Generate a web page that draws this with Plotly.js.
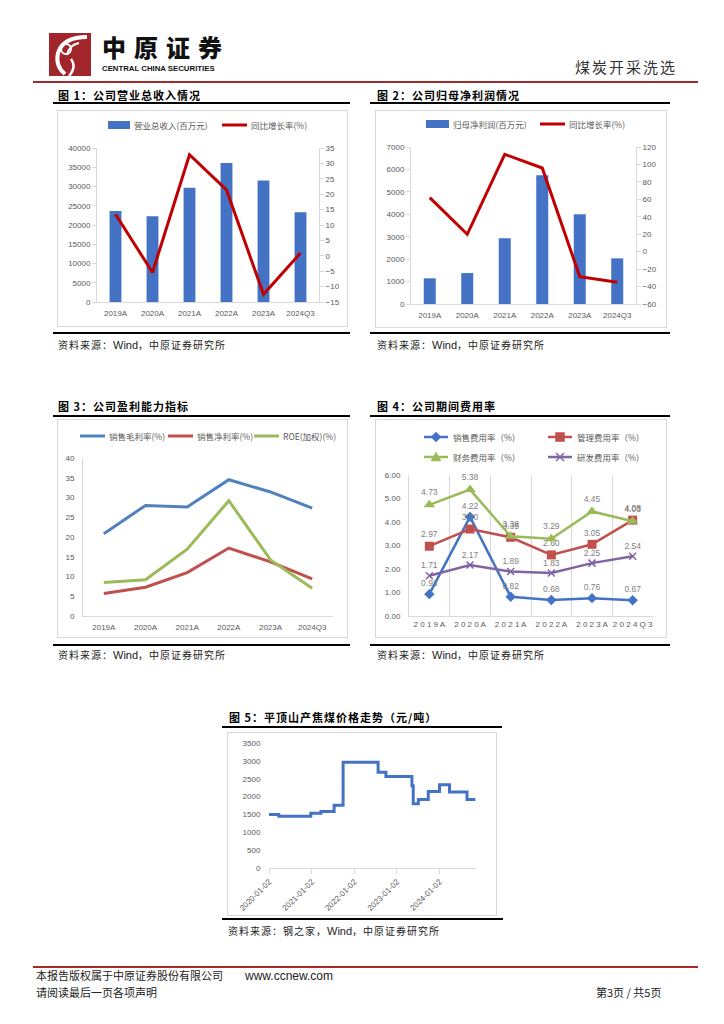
<!DOCTYPE html>
<html><head><meta charset="utf-8">
<script src="https://cdn.plot.ly/plotly-3.0.1.min.js"></script>
<style>
body{margin:0;width:724px;height:1024px;position:relative;background:#fff;font-family:"Noto Sans CJK SC",sans-serif;overflow:hidden}
.ln{position:absolute;height:2px;background:#000}
.ttl{position:absolute;font-size:11px;font-weight:bold;letter-spacing:1px;color:#000;line-height:14px;white-space:nowrap}
.src{position:absolute;font-size:10px;color:#222;letter-spacing:1px;white-space:nowrap;line-height:12px}
.src b{font-family:"Liberation Sans",Arial,sans-serif;font-weight:normal;font-size:11px;letter-spacing:0}
.chart{position:absolute;outline:1px solid #d9d9d9;outline-offset:-1px}
.ft{position:absolute;font-size:11px;color:#222;white-space:nowrap;line-height:13px}
</style></head>
<body>
<svg style="position:absolute;left:49px;top:33px" width="42" height="43" viewBox="0 0 42 43">
<rect x="0" y="0" width="42" height="43" fill="#A1262C"/>
<path d="M38 4 Q14 4 9 20 Q6 33 16 41" stroke="#fff" stroke-width="4" fill="none"/>
<path d="M30 10 Q20 12 18 22" stroke="#fff" stroke-width="2" fill="none"/>
<circle cx="17" cy="16" r="5" stroke="#fff" stroke-width="2" fill="none"/>
<path d="M20 43 Q28 34 22 26" stroke="#fff" stroke-width="2.5" fill="none"/>
</svg>
<div style="position:absolute;left:102px;top:33px;font-size:24px;font-weight:900;letter-spacing:8px;color:#111;line-height:28px">中原证券</div>
<div style="position:absolute;left:102px;top:64px;font-family:'Liberation Sans',Arial;font-size:7.8px;font-weight:bold;color:#111;line-height:9px;white-space:nowrap">CENTRAL CHINA SECURITIES</div>
<div style="position:absolute;left:575px;top:57px;font-size:15px;letter-spacing:2px;color:#333;line-height:20px">煤炭开采洗选</div>
<div class="ln" style="top:81px;left:33px;width:665px;background:#A52A2A"></div>

<div class="ttl" style="left:58px;top:88px">图 1：公司营业总收入情况</div>
<div class="ttl" style="left:377px;top:88px">图 2：公司归母净利润情况</div>
<div class="ln" style="top:102px;left:53px;width:297px"></div>
<div class="ln" style="top:102px;left:370px;width:300px"></div>
<div id="c1" class="chart" style="left:57px;top:110px;width:291px;height:217px"></div>
<div id="c2" class="chart" style="left:375px;top:110px;width:292px;height:218px"></div>
<div class="ln" style="top:332px;left:53px;width:297px"></div>
<div class="ln" style="top:332px;left:370px;width:300px"></div>
<div class="src" style="left:58px;top:339px">资料来源：<b>Wind</b>，中原证券研究所</div>
<div class="src" style="left:377px;top:339px">资料来源：<b>Wind</b>，中原证券研究所</div>

<div class="ttl" style="left:58px;top:399px">图 3：公司盈利能力指标</div>
<div class="ttl" style="left:377px;top:399px">图 4：公司期间费用率</div>
<div class="ln" style="top:415px;left:53px;width:297px"></div>
<div class="ln" style="top:415px;left:370px;width:300px"></div>
<div id="c3" class="chart" style="left:57px;top:419px;width:291px;height:219px"></div>
<div id="c4" class="chart" style="left:375px;top:419px;width:292px;height:219px"></div>
<div class="ln" style="top:644px;left:53px;width:297px"></div>
<div class="ln" style="top:644px;left:370px;width:300px"></div>
<div class="src" style="left:58px;top:649px">资料来源：<b>Wind</b>，中原证券研究所</div>
<div class="src" style="left:377px;top:649px">资料来源：<b>Wind</b>，中原证券研究所</div>

<div class="ttl" style="left:229px;top:710px">图 5：平顶山产焦煤价格走势（元/吨）</div>
<div class="ln" style="top:726px;left:222px;width:280px"></div>
<div id="c5" class="chart" style="left:227px;top:732px;width:270px;height:184px"></div>
<div class="ln" style="top:918px;left:222px;width:281px"></div>
<div class="src" style="left:228px;top:925px">资料来源：钢之家，<b>Wind</b>，中原证券研究所</div>

<div class="ln" style="top:966px;left:33px;width:665px;background:#A52A2A"></div>
<div class="ft" style="left:36px;top:969px">本报告版权属于中原证券股份有限公司<span style="font-family:'Liberation Sans',Arial;font-size:12px;margin-left:22px">www.ccnew.com</span></div>
<div class="ft" style="left:36px;top:986px">请阅读最后一页各项声明</div>
<div class="ft" style="left:596px;top:986px">第3页 / 共5页</div>

<script>
// ---------- data ----------
const categories = ['2019A','2020A','2021A','2022A','2023A','2024Q3'];
const revenue = [23650, 22300, 29650, 36100, 31550, 23300];
const revenueYoY = [13.5, -5.4, 32.8, 21.4, -12.5, 0.9];
const netProfit = [1145, 1380, 2930, 5740, 4000, 2035];
const netProfitYoY = [61.9, 19.9, 111.6, 95.9, -28.6, -35.1];
const grossMargin = [20.8, 28.0, 27.6, 34.5, 31.4, 27.3];
const netMargin = [5.7, 7.3, 11.0, 17.2, 13.7, 9.4];
const roeWeighted = [8.5, 9.2, 16.9, 29.2, 14.2, 7.0];
const sellingRate = [0.93, 4.22, 0.82, 0.68, 0.76, 0.67];
const adminRate = [2.97, 3.70, 3.35, 2.60, 3.05, 4.08];
const financeRate = [4.73, 5.38, 3.39, 3.29, 4.45, 4.03];
const rdRate = [1.71, 2.17, 1.89, 1.83, 2.25, 2.54];
const priceDates = ['2020-01-02','2020-03-26','2020-12-25','2021-03-22','2021-07-13','2021-09-28','2022-07-25','2022-09-30','2023-05-11','2023-05-22','2023-07-05','2023-09-28','2024-01-02','2024-03-28','2024-08-25','2024-11-05'];
const priceValues = [1500, 1450, 1530, 1580, 1760, 2960, 2680, 2560, 2300, 1800, 1920, 2140, 2330, 2130, 1920, 1920];
const priceTickLabels = ['2020-01-02','2021-01-02','2022-01-02','2023-01-02','2024-01-02'];

// ---------- helpers ----------
const TXT = '#595959', AX = '#d9d9d9';
const cfg = {staticPlot:true, displayModeBar:false};
const NUMF = 'Liberation Sans, Arial, sans-serif';
const CJK = 'Noto Sans CJK SC, sans-serif';
function conv(W,H,m){return {X:x=>(x-m.l)/(W-m.l-m.r), Y:y=>1-(y-m.t)/(H-m.t-m.b)};}
function legText(c,x,y,t,size){return {xref:'paper',yref:'paper',x:c.X(x),y:c.Y(y),xanchor:'left',yanchor:'middle',text:t,showarrow:false,font:{family:CJK,size:size||8.5,color:TXT}};}
function legRect(c,x0,y0,x1,y1,col){return {type:'rect',xref:'paper',yref:'paper',x0:c.X(x0),x1:c.X(x1),y0:c.Y(y0),y1:c.Y(y1),fillcolor:col,line:{width:0}};}
function legLine(c,x0,x1,y,col,w){return {type:'line',xref:'paper',yref:'paper',x0:c.X(x0),x1:c.X(x1),y0:c.Y(y),y1:c.Y(y),line:{color:col,width:w}};}
function yAx(extra){return Object.assign({showgrid:false,zeroline:false,showline:true,linecolor:AX,linewidth:1,ticks:'outside',ticklen:4,tickcolor:AX,tickformat:'d',tickfont:{family:NUMF,size:8,color:TXT}},extra);}
function xCat(extra){return Object.assign({type:'category',range:[-0.5,categories.length-0.5],showgrid:false,showline:true,linecolor:AX,ticks:'outside',ticklen:3,tickcolor:'rgba(0,0,0,0)',tickangle:0,tickfont:{family:NUMF,size:8,color:TXT}},extra);}
function base(W,H,m){return {width:W,height:H,margin:m,paper_bgcolor:'rgba(0,0,0,0)',plot_bgcolor:'rgba(0,0,0,0)',showlegend:false,font:{family:NUMF,size:8,color:TXT}};}

// ---------- chart 1 ----------
(function(){
  const W=291,H=217,m={l:40,r:29,t:38,b:25,pad:0}; const c=conv(W,H,m);
  const L=base(W,H,m);
  L.bargap=0.68;
  L.xaxis=xCat({});
  L.yaxis=yAx({range:[0,40000],dtick:5000});
  L.yaxis2=yAx({overlaying:'y',side:'right',range:[-15,35],dtick:5});
  L.shapes=[legRect(c,51,11,73,19,'#4472C4'),legLine(c,165,190,15,'#C00000',3)];
  L.annotations=[legText(c,75,15,'营业总收入(百万元)'),legText(c,192,15,'同比增长率(%)')];
  Plotly.newPlot('c1',[
    {type:'bar',x:categories,y:revenue,marker:{color:'#4472C4'},yaxis:'y'},
    {type:'scatter',mode:'lines',x:categories,y:revenueYoY,line:{color:'#C00000',width:3},yaxis:'y2'}
  ],L,cfg);
})();

// ---------- chart 2 ----------
(function(){
  const W=292,H=218,m={l:36,r:31,t:37,b:24,pad:0}; const c=conv(W,H,m);
  const L=base(W,H,m);
  L.bargap=0.68;
  L.xaxis=xCat({});
  L.yaxis=yAx({range:[0,7000],dtick:1000});
  L.yaxis2=yAx({overlaying:'y',side:'right',range:[-60,120],dtick:20});
  L.shapes=[legRect(c,51,10,74,18,'#4472C4'),legLine(c,165,190,14,'#C00000',3)];
  L.annotations=[legText(c,76,14,'归母净利润(百万元)'),legText(c,192,14,'同比增长率(%)')];
  Plotly.newPlot('c2',[
    {type:'bar',x:categories,y:netProfit,marker:{color:'#4472C4'},yaxis:'y'},
    {type:'scatter',mode:'lines',x:categories,y:netProfitYoY,line:{color:'#C00000',width:3},yaxis:'y2'}
  ],L,cfg);
})();

// ---------- chart 3 ----------
(function(){
  const W=291,H=219,m={l:26,r:15,t:39,b:22,pad:0}; const c=conv(W,H,m);
  const L=base(W,H,m);
  L.xaxis=xCat({});
  L.yaxis=yAx({range:[0,40],dtick:5,tickcolor:'rgba(0,0,0,0)',ticklen:6});
  const cols=['#4F81BD','#C0504D','#9BBB59'];
  L.shapes=[legLine(c,23,48,17,cols[0],3),legLine(c,111,136,17,cols[1],3),legLine(c,197,222,17,cols[2],3)];
  L.annotations=[legText(c,50,17,'销售毛利率(%)'),legText(c,138,17,'销售净利率(%)'),legText(c,224,17,'ROE(加权)(%)')];
  Plotly.newPlot('c3',[
    {type:'scatter',mode:'lines',x:categories,y:grossMargin,line:{color:cols[0],width:3}},
    {type:'scatter',mode:'lines',x:categories,y:netMargin,line:{color:cols[1],width:3}},
    {type:'scatter',mode:'lines',x:categories,y:roeWeighted,line:{color:cols[2],width:3}}
  ],L,cfg);
})();

// ---------- chart 4 ----------
(function(){
  const W=292,H=219,m={l:34,r:14,t:56,b:22,pad:0}; const c=conv(W,H,m);
  const L=base(W,H,m);
  const spaced=categories.map(s=>s.split('').join(' '));
  L.xaxis=xCat({showgrid:true,gridcolor:AX,gridwidth:1,tickson:'boundaries',ticks:'',ticklen:0});
  L.yaxis=yAx({range:[0,6],dtick:1,tickformat:'.2f',tickcolor:'rgba(0,0,0,0)',ticklen:6,showline:true});
  const cols=['#4472C4','#C0504D','#9BBB59','#8064A2'];
  const names=['销售费用率（%）','管理费用率（%）','财务费用率（%）','研发费用率（%）'];
  const syms=['diamond','square','triangle-up','x-thin-open'];
  const sizes=[8,9,10,7];
  const series=[sellingRate,adminRate,financeRate,rdRate];
  const pos=[[49,18],[173,18],[49,38],[173,38]];
  L.shapes=[];L.annotations=[];
  function mk(i,x,y){
    const cx=c.X(x+12), cy=c.Y(y);
    const pth={diamond:'M0,5 L5,0 L0,-5 L-5,0 Z',square:'M-4.5,-4.5 L4.5,-4.5 L4.5,4.5 L-4.5,4.5 Z','triangle-up':'M0,5 L5,-4 L-5,-4 Z','x-thin-open':'M-4,-4 L4,4 M-4,4 L4,-4'}[syms[i]];
    return {type:'path',xref:'paper',yref:'paper',xsizemode:'pixel',ysizemode:'pixel',xanchor:cx,yanchor:cy,path:pth,fillcolor:syms[i]==='x-thin-open'?'rgba(0,0,0,0)':cols[i],line:{color:cols[i],width:syms[i]==='x-thin-open'?1.5:0.5}};
  }
  pos.forEach((p,i)=>{
    L.shapes.push(legLine(c,p[0],p[0]+24,p[1],cols[i],2.5));
    L.shapes.push(mk(i,p[0],p[1]));
    L.annotations.push(legText(c,p[0]+27,p[1],names[i],8.5));
  });
  const traces=series.map((s,i)=>({type:'scatter',mode:'lines+markers+text',x:spaced,y:s,
    line:{color:cols[i],width:2.5},marker:{symbol:syms[i],size:sizes[i],color:cols[i],line:{color:cols[i],width:i===3?1.5:0}},
    texttemplate:'%{y:.2f}',textposition:'top center',textfont:{family:NUMF,size:8.5,color:'#7f7f7f'},cliponaxis:false}));
  Plotly.newPlot('c4',traces,L,cfg);
})();

// ---------- chart 5 ----------
(function(){
  const W=270,H=184,m={l:42,r:21,t:11,b:48,pad:0};
  const L=base(W,H,m);
  L.xaxis={type:'date',range:['2020-01-02','2024-11-10'],tickmode:'array',tickvals:priceTickLabels,ticktext:priceTickLabels,tickangle:-45,showline:true,linecolor:AX,ticks:'outside',ticklen:5,tickcolor:AX,showgrid:false,tickfont:{family:NUMF,size:8,color:TXT}};
  L.yaxis={range:[0,3500],dtick:500,showgrid:false,zeroline:false,showline:false,ticks:'outside',ticklen:6,tickcolor:'rgba(0,0,0,0)',tickfont:{family:NUMF,size:8,color:TXT}};
  Plotly.newPlot('c5',[{type:'scatter',mode:'lines',x:priceDates,y:priceValues,line:{color:'#4472C4',width:3,shape:'hv'}}],L,cfg);
})();
</script>
</body></html>
